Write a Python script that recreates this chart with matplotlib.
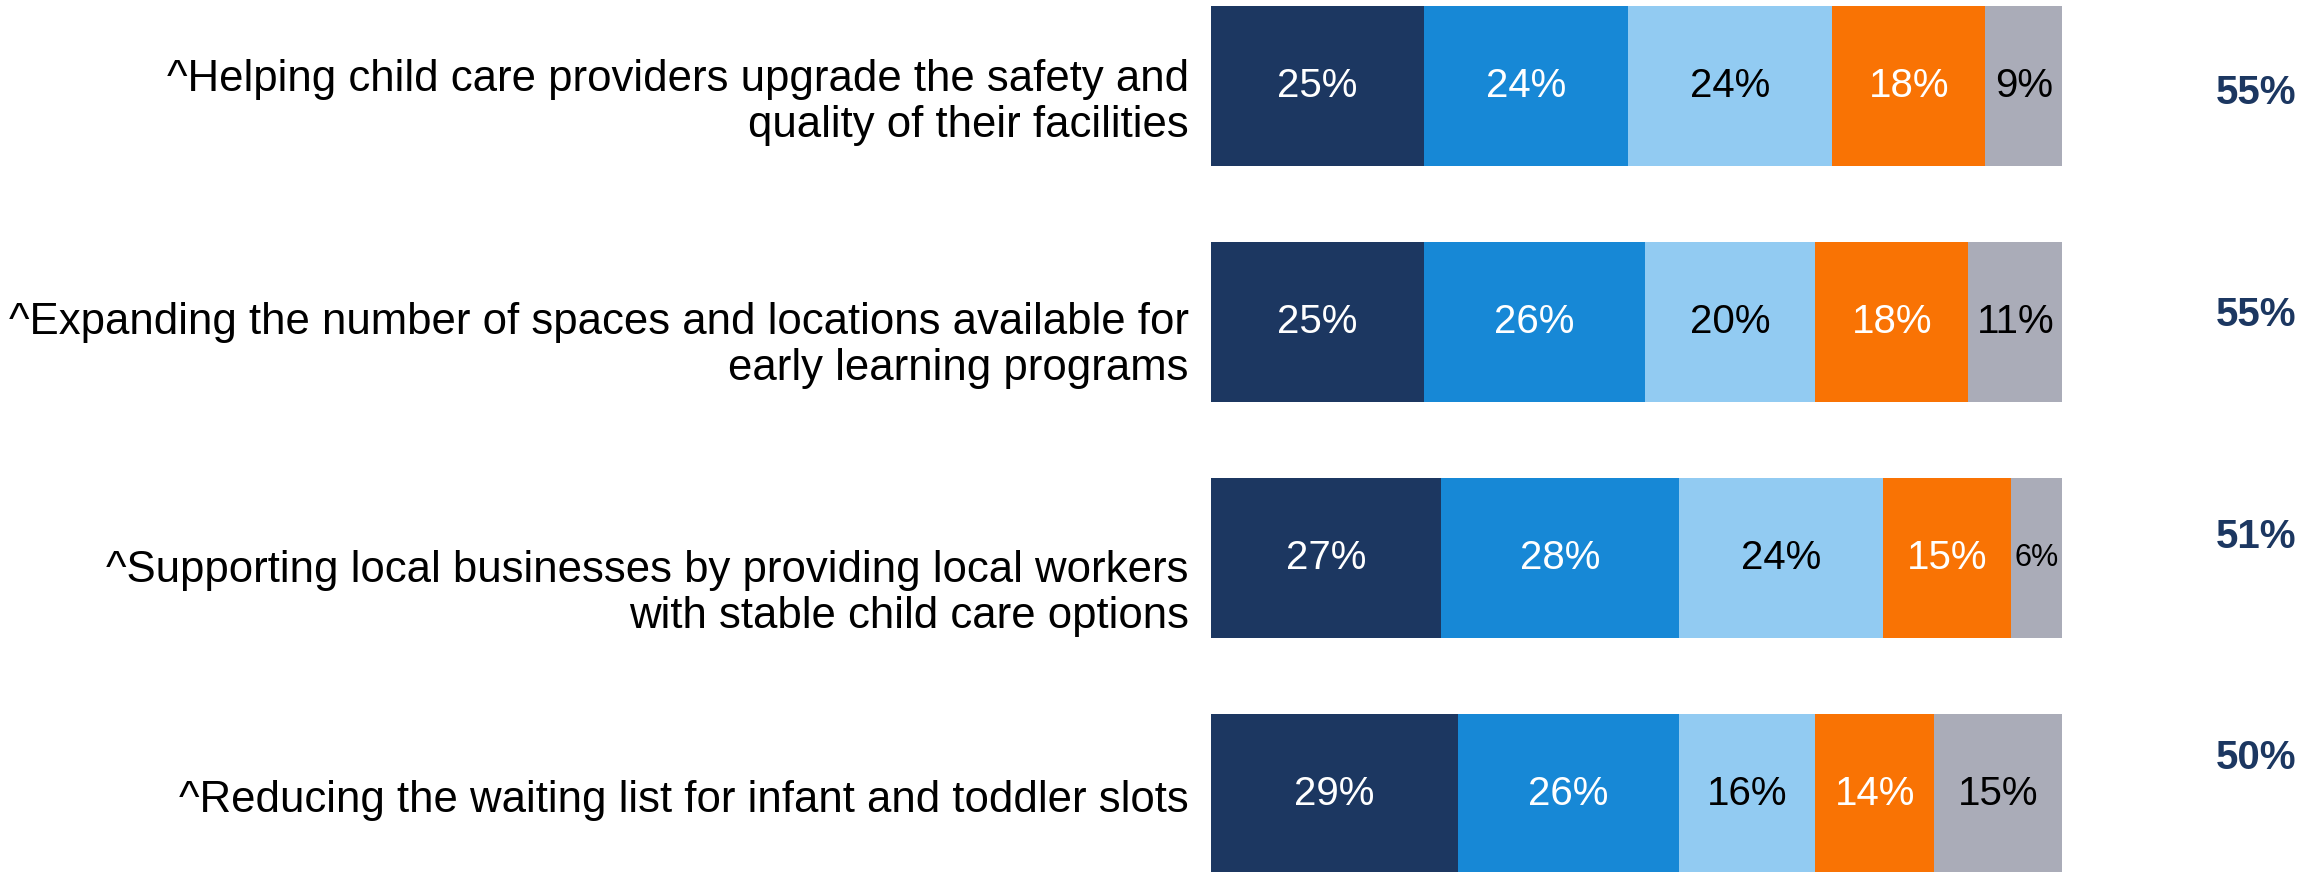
import matplotlib
matplotlib.use("Agg")
import matplotlib.pyplot as plt
import numpy as np

# data
items = [
    "^Helping child care providers upgrade the safety and\nquality of their facilities",
    "^Expanding the number of spaces and locations available for\nearly learning programs",
    "^Supporting local businesses by providing local workers\nwith stable child care options",
    "^Reducing the waiting list for infant and toddler slots",
]
strongly = [25, 25, 27, 29]
somewhat = [24, 26, 28, 26]
slightly = [24, 20, 24, 16]
opposed = [18, 18, 15, 14]
unsure = [9, 11, 6, 15]
totals = [55, 55, 51, 50]

segments = [strongly, somewhat, slightly, opposed, unsure]
colors = ["#1C3761", "#1788D6", "#92CBF2", "#F97304", "#AAACB8"]
text_colors = ["white", "white", "black", "white", "black"]

# the category labels sit a little below their bars in the original
label_shift = [0.07, 0.10, 0.15, 0.03]

plt.rcParams["font.family"] = ["Liberation Sans", "DejaVu Sans"]

fig = plt.figure(figsize=(23.13, 8.72), dpi=100)
ax = fig.add_axes([0.5236, 0, 0.3679, 1])

y = np.arange(len(items))
left = np.zeros(len(items))
for vals, c, tc in zip(segments, colors, text_colors):
    vals = np.array(vals, dtype=float)
    ax.barh(y, vals, left=left, height=0.68, color=c, edgecolor="none")
    for yi, l, v in zip(y, left, vals):
        size = 22 if v < 8 else 29
        ax.text(l + v / 2, yi, f"{int(v)}%", ha="center", va="center",
                color=tc, fontsize=size)
    left += vals

ax.set_xlim(0, left.max())
ax.set_ylim(3.331, -0.364)
ax.axis("off")

for yi, label, s in zip(y, items, label_shift):
    ax.text(-2.6, yi + s, label, ha="right", va="center", fontsize=31.5,
            color="black", linespacing=1.15)

for yi, t in zip(y, totals):
    ax.text(left.max() * 1.228, 0.03 + 0.94 * yi, f"{t}%", ha="center",
            va="center", fontsize=29, fontweight="bold", color="#1C3761")

fig.savefig("out.png", dpi=100)
